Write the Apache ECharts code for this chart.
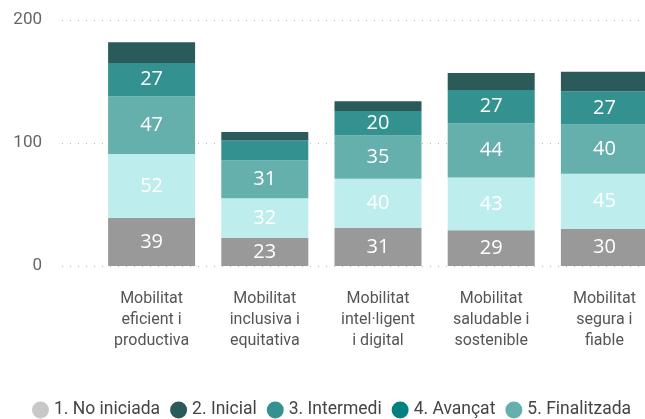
<!DOCTYPE html>
<html>
<head>
<meta charset="utf-8">
<script src="https://cdn.jsdelivr.net/npm/echarts@6/dist/echarts.min.js"></script>
<style>
    html, body { margin: 0; padding: 0; background: #fff; }
    #chart { width: 645px; height: 419px; }
</style>
</head>
<body>
<div id="chart"></div>
<script>
    // categories
    const categories = [
        'Mobilitat\neficient i\nproductiva',
        'Mobilitat\ninclusiva i\nequitativa',
        'Mobilitat\nintel·ligent\ni digital',
        'Mobilitat\nsaludable i\nsostenible',
        'Mobilitat\nsegura i\nfiable'
    ]
    // stacked values, bottom to top
    const noIniciada = [39, 23, 31, 29, 30]
    const avancat = [52, 32, 40, 43, 45]
    const finalitzada = [47, 31, 35, 44, 40]
    const intermedi = [27, 16, 20, 27, 27]
    const inicial = [17, 7, 8, 14, 16]
    const yTicks = [0, 100, 200]

    const fontFam = 'Roboto, "Open Sans", sans-serif'

    // segment label: hidden when the segment is too thin
    function seg(name, data, color, showLabel) {
        return {
            name: name,
            type: 'bar',
            stack: 'total',
            xAxisIndex: 1,
            yAxisIndex: 1,
            barWidth: 87,
            data: data,
            itemStyle: { color: color },
            label: {
                show: showLabel,
                position: 'inside',
                color: '#fff',
                fontSize: 20,
                fontFamily: '"Open Sans", sans-serif',
                formatter: p => p.value >= 18 ? p.value : ''
            }
        }
    }

    const chart = echarts.init(document.getElementById('chart'))
    chart.setOption({
        animation: false,
        legend: {
            left: 27,
            top: 396,
            icon: 'circle',
            itemWidth: 17,
            itemHeight: 17,
            itemGap: 10,
            textStyle: { color: '#444', fontSize: 17.5, fontFamily: fontFam },
            data: [
                { name: '1. No iniciada', itemStyle: { color: '#C8C8C8' } },
                { name: '2. Inicial', itemStyle: { color: '#2A5B5A' } },
                { name: '3. Intermedi', itemStyle: { color: '#33918F' } },
                { name: '4. Avançat', itemStyle: { color: '#00807F' } },
                { name: '5. Finalitzada', itemStyle: { color: '#65AFAD' } }
            ]
        },
        grid: [
            // axis + dotted gridlines
            { left: 62, right: 0, top: 20, bottom: 153 },
            // bars, running past the right edge
            { left: 95, right: -16, top: 20, bottom: 153, outerBoundsMode: 'none' }
        ],
        xAxis: [
            { type: 'category', gridIndex: 0, data: [''], show: false },
            {
                type: 'category',
                gridIndex: 1,
                data: categories,
                axisLine: { show: false },
                axisTick: { show: false },
                axisLabel: {
                    color: '#555',
                    fontSize: 16,
                    fontFamily: fontFam,
                    lineHeight: 21,
                    margin: 22,
                    interval: 0
                }
            }
        ],
        yAxis: [
            {
                type: 'value',
                gridIndex: 0,
                min: yTicks[0],
                max: yTicks[yTicks.length - 1],
                interval: 100,
                axisLine: { show: false },
                axisTick: { show: false },
                axisLabel: { color: '#666', fontSize: 17, fontFamily: fontFam, margin: 20 },
                splitLine: { lineStyle: { color: '#bbb', type: [1, 7], width: 1 } }
            },
            {
                type: 'value',
                gridIndex: 1,
                min: yTicks[0],
                max: yTicks[yTicks.length - 1],
                interval: 100,
                show: false,
                splitLine: { show: false }
            }
        ],
        series: [
            seg('1. No iniciada', noIniciada, '#999999', true),
            seg('4. Avançat', avancat, '#BDEDED', true),
            seg('5. Finalitzada', finalitzada, '#65AFAD', true),
            seg('3. Intermedi', intermedi, '#33918F', true),
            seg('2. Inicial', inicial, '#2A5B5A', false)
        ]
    })
</script>
</body>
</html>
